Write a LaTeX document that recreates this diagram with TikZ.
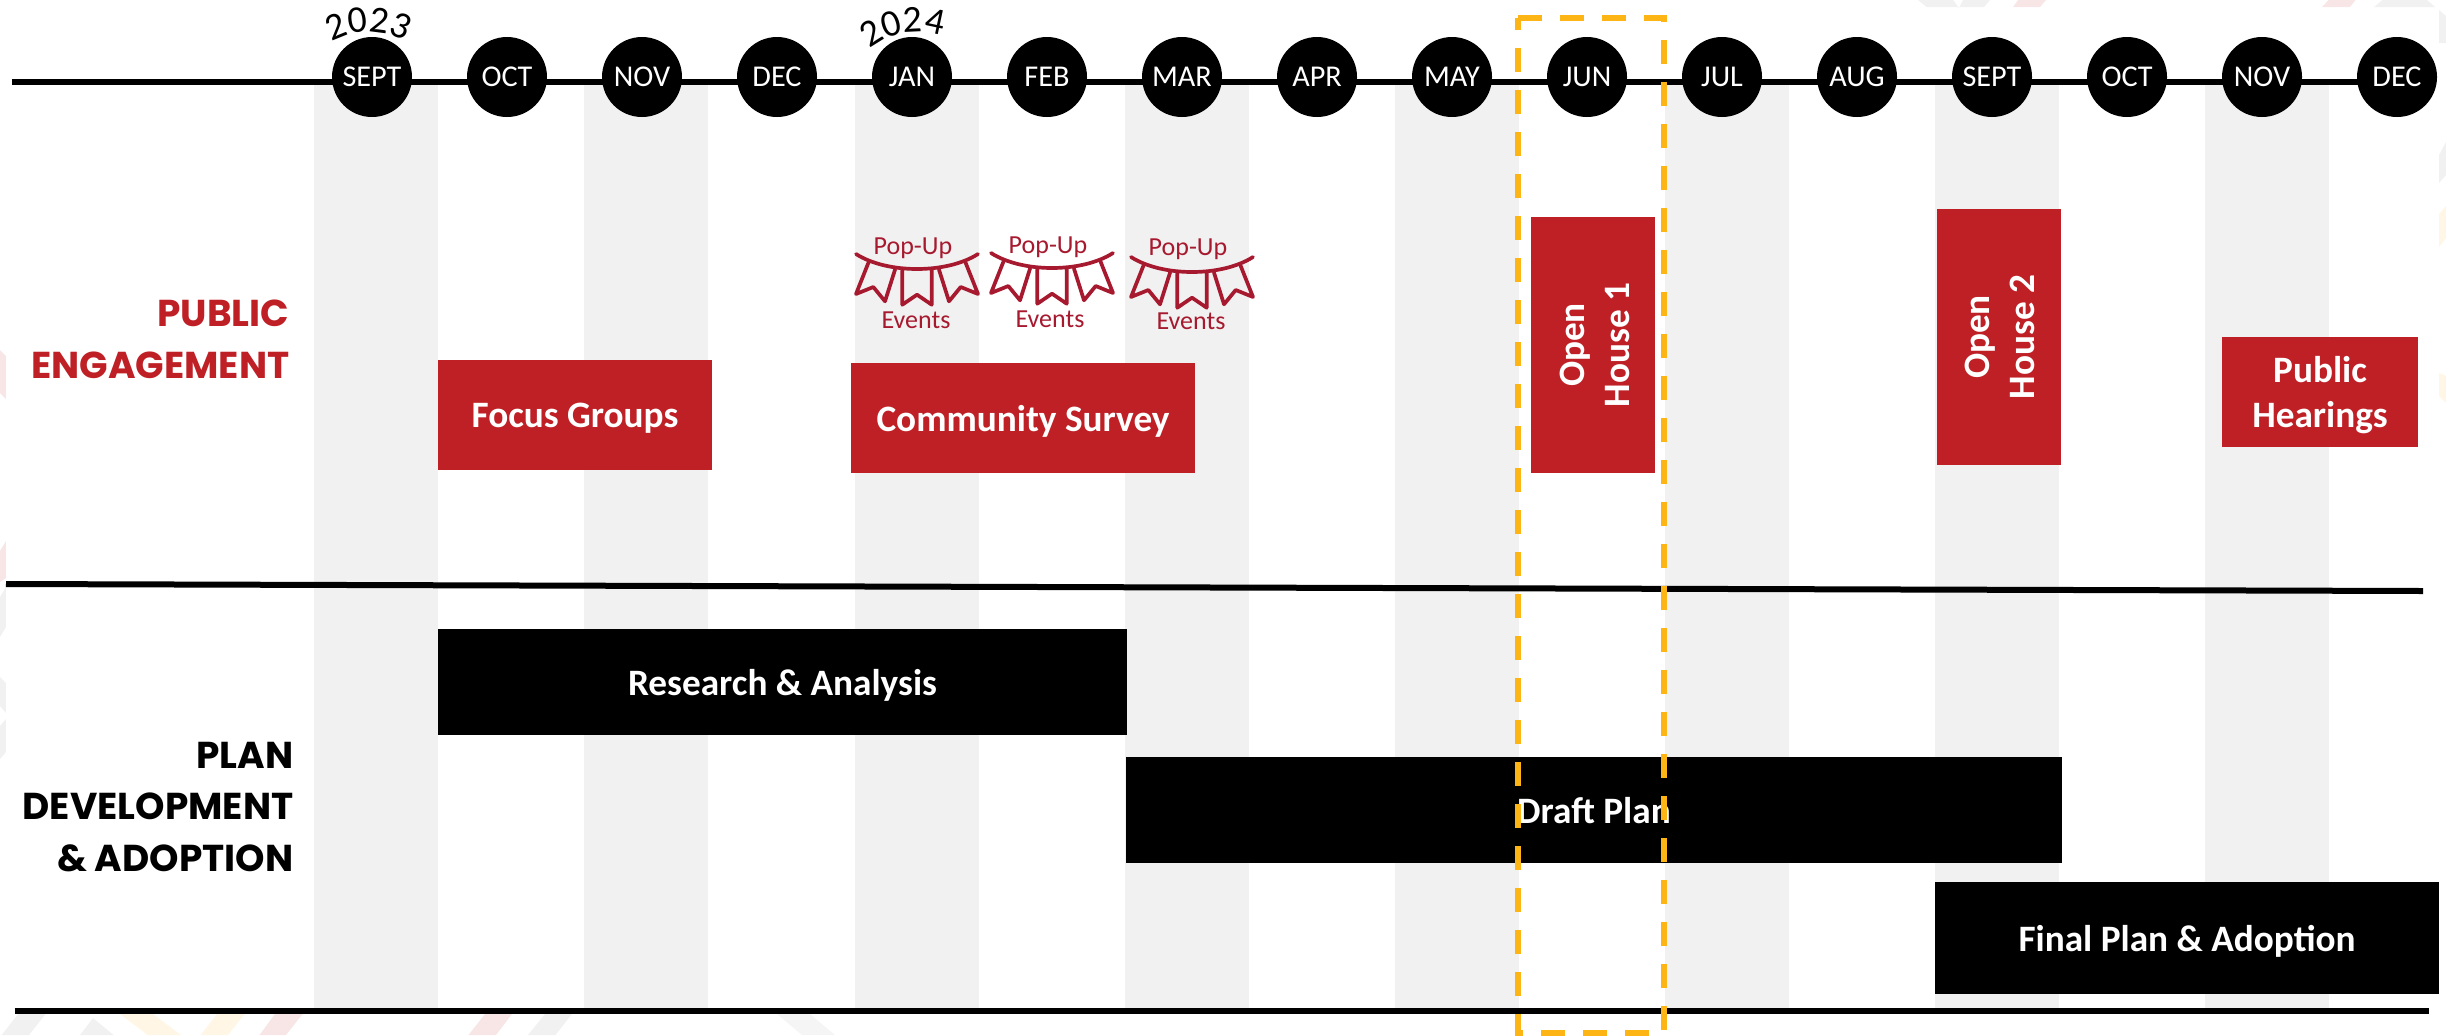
\documentclass[tikz,border=0pt]{standalone}
\usepackage{fontspec}
\setmainfont{Carlito}
\newfontfamily\headfont{Poppins}
\usetikzlibrary{decorations.text}

\definecolor{cred}{HTML}{BE2026}
\definecolor{cband}{HTML}{F1F1F1}
\definecolor{cgold}{HTML}{FDB515}
\definecolor{cflag}{HTML}{A6192E}
\definecolor{cpink}{HTML}{F8E6E6}
\definecolor{ccream}{HTML}{FFF6E5}

\tikzset{
	month/.style={circle, fill=black, text=white, minimum size=0.8cm, inner sep=0pt, font=\fontsize{8.6}{10}\selectfont},
	redbox/.style={fill=cred, text=white, inner sep=0pt, align=center, text depth=0pt, font=\fontsize{10.6}{13}\selectfont\bfseries},
	blackbox/.style={fill=black, text=white, inner sep=0pt, text depth=0pt, font=\fontsize{10.6}{13}\selectfont\bfseries},
	sidetext/.style={text=white, inner sep=0pt, align=center, rotate=90, font=\fontsize{10.6}{12.8}\selectfont\bfseries},
	band/.style={fill=cband},
	rule/.style={line width=0.06cm},
	popup/.style={text=cflag, inner sep=0pt, font=\fontsize{7.4}{9}\selectfont},
	heading/.style={anchor=east, align=right, inner sep=0pt, font=\fontsize{10.65}{14.7}\selectfont\headfont\bfseries},
	year/.style={decorate, decoration={text along path, text align=center, text={|\fontsize{10.8}{13}\selectfont|#1}}},
	pics/bunting/.style={code={
		\draw[cflag, line width=0.037cm, line cap=round, line join=round]
			(-0.61,0) .. controls (-0.30,-0.20) and (0.30,-0.20) .. (0.61,0)
			(-0.487,-0.09) -- (-0.61,-0.40) -- (-0.437,-0.33) -- (-0.32,-0.473) -- (-0.22,-0.157)
			(-0.147,-0.163) -- (-0.147,-0.507) -- (0,-0.407) -- (0.147,-0.507) -- (0.147,-0.163)
			(0.487,-0.09) -- (0.61,-0.40) -- (0.437,-0.33) -- (0.32,-0.473) -- (0.22,-0.157);
	}}
}

\begin{document}
\begin{tikzpicture}
	\useasboundingbox (0,0) rectangle (24.46,10.35);

	% faint edge shapes: top
	\fill[cband] (19.18,10.35) -- (19.265,10.28) -- (19.84,10.28) -- (19.90,10.35) -- (19.63,10.35) -- (19.59,10.27) -- (19.53,10.35) -- cycle;
	\fill[cpink] (20.18,10.35) -- (20.13,10.28) -- (20.40,10.28) -- (20.46,10.35) -- cycle;
	\fill[cpink] (23.285,10.35) -- (23.22,10.28) -- (23.50,10.28) -- (23.555,10.35) -- cycle;
	\fill[cband] (23.825,10.35) -- (23.74,10.28) -- (24.35,10.28) -- (24.27,10.35) -- cycle;
	% faint edge shapes: bottom
	\fill[cband] (0.18,0.21) -- (0.456,0.21) -- (0.29,0) -- (0.017,0) -- cycle;
	\fill[cband] (0.93,0.17) -- (1.136,0) -- (0.80,0) -- cycle;
	\fill[ccream] (1.20,0.21) -- (1.53,0.21) -- (1.81,0) -- (1.476,0) -- cycle;
	\fill[ccream] (2.17,0.21) -- (2.446,0.21) -- (2.28,0) -- (2.007,0) -- cycle;
	\fill[cpink] (2.75,0.21) -- (3.026,0.21) -- (2.86,0) -- (2.595,0) -- cycle;
	\fill[cpink] (4.85,0.21) -- (5.12,0.21) -- (4.96,0) -- (4.685,0) -- cycle;
	\fill[cband] (5.45,0.21) -- (5.72,0.21) -- (5.555,0) -- (5.28,0) -- cycle;
	\fill[cband!70] (7.77,0.21) -- (8.10,0.21) -- (8.35,0) -- (8.02,0) -- cycle;
	% faint edge shapes: left
	\fill[cpink] (0,6.85) -- (0.06,6.79) -- (0.06,6.36) -- (0,6.42) -- cycle;
	\fill[cpink] (0.06,4.94) -- (0,4.84) -- (0,4.53) -- (0.06,4.57) -- cycle;
	\fill[cband] (0.06,4.48) -- (0,4.38) -- (0,3.98) -- (0.06,4.08) -- cycle;
	\fill[cband] (0,3.58) -- (0.06,3.52) -- (0.06,3.22) -- (0,3.29) -- cycle;
	\fill[cband] (0.06,3.16) -- (0,3.09) -- (0,2.76) -- (0.06,2.83) -- cycle;
	% faint edge shapes: right
	\fill[cband] (24.39,10.25) -- (24.46,10.19) -- (24.46,9.92) -- (24.39,9.92) -- cycle;
	\fill[cband] (24.39,8.80) -- (24.46,8.93) -- (24.46,8.60) -- (24.39,8.52) -- cycle;
	\fill[ccream] (24.39,8.21) -- (24.46,8.29) -- (24.46,7.97) -- (24.39,7.88) -- cycle;
	\fill[ccream] (24.39,6.62) -- (24.46,6.59) -- (24.46,6.32) -- (24.39,6.39) -- cycle;

	% month bands
	\fill[band]  (3.14,0.25) rectangle +(1.24,9.26);
	\fill[band]  (5.84,0.25) rectangle +(1.24,9.26);
	\fill[band]  (8.55,0.25) rectangle +(1.24,9.26);
	\fill[band] (11.25,0.25) rectangle +(1.24,9.26);
	\fill[band] (13.95,0.25) rectangle +(1.24,9.26);
	\fill[band] (16.65,0.25) rectangle +(1.24,9.26);
	\fill[band] (19.35,0.25) rectangle +(1.24,9.26);
	\fill[band] (22.05,0.25) rectangle +(1.24,9.26);

	% rule ends
	\coordinate (line_start) at  (0.12,9.535);
	\coordinate   (line_end) at (23.90,9.535);
	\coordinate (mid_left)   at  (0.06,4.51);
	\coordinate (mid_right)  at (24.23,4.44);
	\coordinate (low_left)   at  (0.145,0.245);
	\coordinate (low_right)  at (24.29,0.245);

	% rules
	\draw[rule]  (line_start) -- (line_end);
	\draw[rule]    (mid_left) -- (mid_right);
	\draw[rule]    (low_left) -- (low_right);

	% months
	\node[month]  (sept_a) at  (3.72,9.58) {SEPT};
	\node[month]   (oct_a) at  (5.07,9.58) {OCT};
	\node[month]   (nov_a) at  (6.42,9.58) {NOV};
	\node[month]   (dec_a) at  (7.77,9.58) {DEC};
	\node[month]     (jan) at  (9.12,9.58) {JAN};
	\node[month]     (feb) at (10.47,9.58) {FEB};
	\node[month]     (mar) at (11.82,9.58) {MAR};
	\node[month]     (apr) at (13.17,9.58) {APR};
	\node[month]     (may) at (14.52,9.58) {MAY};
	\node[month]     (jun) at (15.87,9.58) {JUN};
	\node[month]     (jul) at (17.22,9.58) {JUL};
	\node[month]     (aug) at (18.57,9.58) {AUG};
	\node[month]  (sept_b) at (19.92,9.58) {SEPT};
	\node[month]   (oct_b) at (21.27,9.58) {OCT};
	\node[month]   (nov_b) at (22.62,9.58) {NOV};
	\node[month]   (dec_b) at (23.97,9.58) {DEC};

	% years
	\path[year=2023] (3.685,9.28) ++(130:0.75) arc[start angle=130, end angle=50, radius=0.75];
	\path[year=2024]  (9.17,9.28) ++(140:0.75) arc[start angle=140, end angle=60, radius=0.75];

	% headings
	\node[heading, text=cred] (public) at (2.90,6.96) {PUBLIC\\ENGAGEMENT};
	\node[heading]              (plan) at (2.94,2.28) {PLAN\\DEVELOPMENT\\\& ADOPTION};

	% pop-up events
	\pic at  (9.17,7.81) {bunting};
	\pic at (10.52,7.82) {bunting};
	\pic at (11.92,7.78) {bunting};
	\node[popup]  (popup_a) at  (9.13,7.87) {Pop-Up};
	\node[popup] (events_a) at  (9.16,7.15) {Events};
	\node[popup]  (popup_b) at (10.48,7.88) {Pop-Up};
	\node[popup] (events_b) at (10.50,7.16) {Events};
	\node[popup]  (popup_c) at (11.88,7.86) {Pop-Up};
	\node[popup] (events_c) at (11.91,7.14) {Events};

	% public engagement boxes
	\node[redbox, minimum width=2.74cm, minimum height=1.10cm]    (focus) at  (5.75,6.20) {Focus Groups};
	\node[redbox, minimum width=3.44cm, minimum height=1.10cm]   (survey) at (10.23,6.17) {Community Survey};
	\node[redbox, minimum width=1.24cm, minimum height=2.56cm]  (house_a) at (15.93,6.90) {};
	\node[redbox, minimum width=1.24cm, minimum height=2.56cm]  (house_b) at (19.99,6.98) {};
	\node[redbox, minimum width=1.96cm, minimum height=1.10cm] (hearings) at (23.20,6.43) {Public\\Hearings};
	\node[sidetext]  (house_a_text) at (15.95,6.90) {Open\\House 1};
	\node[sidetext]  (house_b_text) at (19.995,6.98) {Open\\House 2};

	% plan boxes
	\node[blackbox, minimum width=6.89cm, minimum height=1.06cm] (research) at (7.825,3.53) {Research \& Analysis};
	\node[blackbox, minimum width=9.36cm, minimum height=1.06cm]    (draft) at (15.94,2.25) {Draft Plan};
	\node[blackbox, minimum width=5.04cm, minimum height=1.12cm]    (final) at (21.87,0.97) {Final Plan \& Adoption};

	% highlight
	\draw[cgold, line width=0.055cm, dash pattern=on 0.24cm off 0.18cm]
		(15.18,10.17) -- (16.64,10.17) -- (16.64,0.02) -- (15.18,0.02) -- cycle;

\end{tikzpicture}
\end{document}
